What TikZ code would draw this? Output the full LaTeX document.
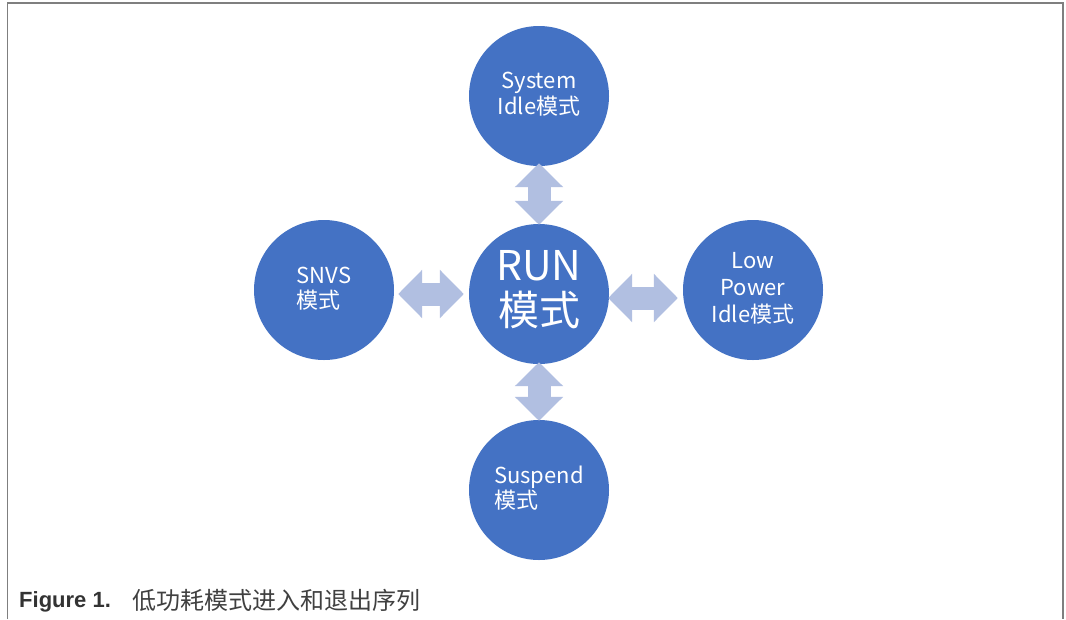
\documentclass[tikz,border=0pt]{standalone}
\usepackage{fontspec}
\setmainfont{Noto Sans CJK SC}
\newfontfamily\capfont{Liberation Sans}
\newfontfamily\cjkfont{Noto Sans CJK SC}
\usetikzlibrary{arrows.meta}
\definecolor{nodeblue}{HTML}{4472C4}
\definecolor{arrowblue}{HTML}{B1BFE1}
\definecolor{framegray}{HTML}{7F7F7F}
\begin{document}
\begin{tikzpicture}[x=1pt,y=-1pt,
  mode/.style={circle, fill=nodeblue, minimum size=140pt, inner sep=0pt,
    text=white, font=\fontsize{22}{28}\selectfont},
  dblarrow/.style={arrowblue, line width=23pt,
    {Triangle[width=47pt,length=24pt]}-{Triangle[width=47pt,length=24pt]}}
]
\useasboundingbox (0,0) rectangle (1066,619);
\fill[white] (0,0) rectangle (1066,619);
% frame
\draw[framegray, line width=1.2pt] (7.5,619) -- (7.5,3) -- (1063,3) -- (1063,619);

\node[mode] (top) at (539,96) {\begin{tabular}{@{}c@{}}System\\[-2pt] Idle模式\end{tabular}};
\node[mode, font=\fontsize{41}{46}\selectfont] (run) at (539,294) {\begin{tabular}{@{}c@{}}RUN\\[-3pt] 模式\end{tabular}};
\node[mode] (snvs) at (324,290) {\begin{tabular}{@{}l@{}}SNVS\\[-3pt] 模式\end{tabular}};
\node[mode] (lp) at (753,290) {\begin{tabular}{@{}c@{}}Low\\[-1pt] Power\\[-1pt] Idle模式\end{tabular}};
\node[mode] (sus) at (539,490) {\begin{tabular}{@{}l@{}}Suspend\\[-3pt] 模式\end{tabular}};

\draw[dblarrow] ([yshift=-1pt]run.north) -- ([yshift=3pt]top.south);
\draw[dblarrow] ([yshift=2pt]run.south) -- ([yshift=-1pt]sus.north);
\draw[dblarrow] ([xshift=-5pt]run.west) -- ([xshift=4pt]run.west -| snvs.east);
\draw[dblarrow] ([xshift=-1pt,yshift=-4pt]run.east) -- ([xshift=-5pt,yshift=-4pt]run.east -| lp.west);

\node[anchor=base west, inner sep=0pt, text=black!80, font=\capfont\bfseries\fontsize{22}{26}\selectfont] (fig) at (19,607) {Figure 1.};
\node[anchor=base west, inner sep=0pt, text=black!75, font=\cjkfont\fontsize{24}{28}\selectfont] (cap) at (132,609) {低功耗模式进入和退出序列};
\end{tikzpicture}
\end{document}
